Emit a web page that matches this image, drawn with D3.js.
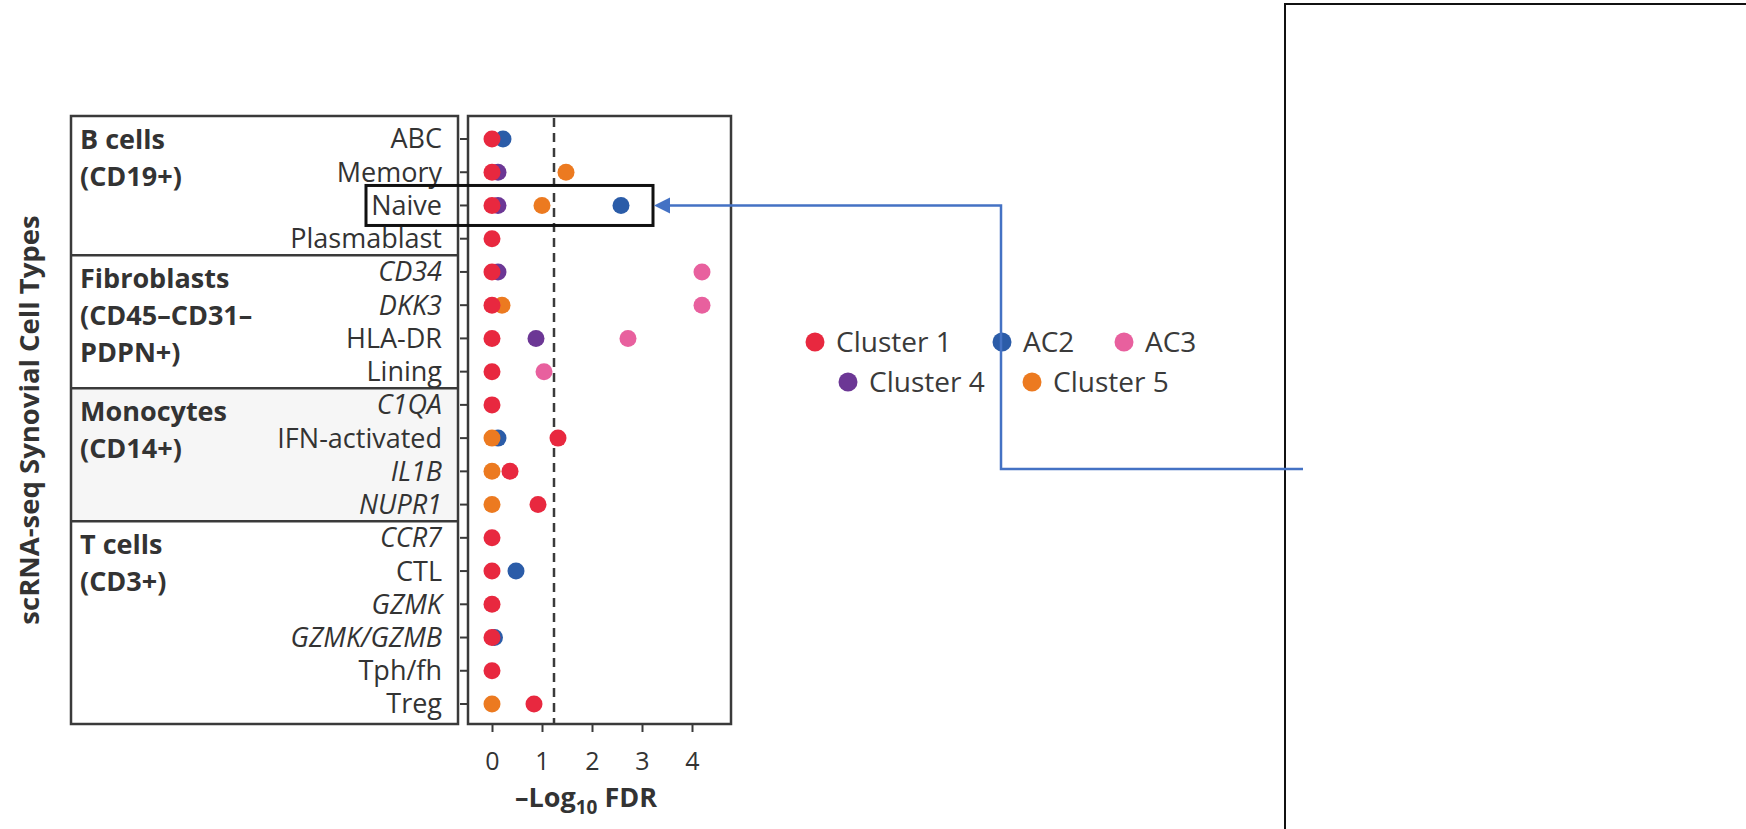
<!DOCTYPE html>
<html>
<head>
<meta charset="utf-8">
<script src="https://cdn.jsdelivr.net/npm/d3@7"></script>
<style>
  body { margin: 0; background: #fff; }
  svg { display: block; font-family: 'Open Sans', sans-serif; }
</style>
</head>
<body>
<div id="chart"></div>
<script>
// rows of the dot plot, top to bottom
const rows = ['ABC', 'Memory', 'Naive', 'Plasmablast',
  'CD34', 'DKK3', 'HLA-DR', 'Lining',
  'C1QA', 'IFN-activated', 'IL1B', 'NUPR1',
  'CCR7', 'CTL', 'GZMK', 'GZMK/GZMB', 'Tph/fh', 'Treg'];
const italicRows = ['CD34', 'DKK3', 'C1QA', 'IL1B', 'NUPR1', 'CCR7', 'GZMK', 'GZMK/GZMB'];
const groupNames = [['B cells', '(CD19+)'], ['Fibroblasts', '(CD45–CD31–', 'PDPN+)'], ['Monocytes', '(CD14+)'], ['T cells', '(CD3+)']];
const groupSizes = [4, 4, 4, 6];

// -log10 FDR per row (null = no dot shown)
const cluster1 = [0, 0, 0, 0, 0, 0, 0, 0, 0, 1.32, 0.36, 0.92, 0, 0, 0, 0, 0, 0.84];
const ac2 = [0.22, null, 2.58, null, null, null, null, null, null, 0.12, null, null, null, 0.48, null, 0.05, null, null];
const ac3 = [null, null, null, null, 4.2, 4.2, 2.72, 1.04, null, null, null, null, null, null, null, null, null, null];
const cluster4 = [null, 0.12, 0.12, null, 0.12, null, 0.88, null, null, null, null, null, null, null, null, null, null, null];
const cluster5 = [null, 1.48, 1.0, null, null, 0.2, null, null, null, 0, 0, 0, null, null, null, null, null, 0];

const seriesNames = ['Cluster 1', 'AC2', 'AC3', 'Cluster 4', 'Cluster 5'];
const seriesColors = ['#e8283f', '#2b5ca8', '#e8609e', '#6c3795', '#ec7a20'];
const xTicks = [0, 1, 2, 3, 4];
const fdrCut = 1.24;

const width = 1746, height = 829;
const svg = d3.select('#chart').append('svg')
  .attr('width', width).attr('height', height);

const box = { left: 468, right: 731, top: 116, bottom: 724 };
const panel = { left: 71, right: 458 };

const x = d3.scaleLinear().domain([0, 4]).range([492, 692]);
const y = d3.scalePoint().domain(rows).range([139, 704]);

const ink = '#3a3a3a';

// group separators sit halfway between rows
let idx = 0;
const groupBounds = groupSizes.map((n, i) => {
  const first = rows[idx], last = rows[idx + n - 1];
  const prev = idx > 0 ? rows[idx - 1] : null;
  const next = idx + n < rows.length ? rows[idx + n] : null;
  const top = prev ? (y(prev) + y(first)) / 2 : box.top;
  const bottom = next ? (y(last) + y(next)) / 2 : box.bottom;
  idx += n;
  return { top, bottom, names: groupNames[i] };
});

// monocyte band is shaded
svg.append('rect')
  .attr('x', panel.left).attr('width', panel.right - panel.left)
  .attr('y', groupBounds[2].top).attr('height', groupBounds[2].bottom - groupBounds[2].top)
  .attr('fill', '#f6f6f6');

svg.append('rect')
  .attr('x', panel.left).attr('y', box.top)
  .attr('width', panel.right - panel.left).attr('height', box.bottom - box.top)
  .attr('fill', 'none').attr('stroke', ink).attr('stroke-width', 2.5);

svg.selectAll('line.sep')
  .data(groupBounds.slice(1))
  .join('line')
  .attr('class', 'sep')
  .attr('x1', panel.left).attr('x2', panel.right)
  .attr('y1', d => d.top).attr('y2', d => d.top)
  .attr('stroke', ink).attr('stroke-width', 2.5);

// group titles
groupBounds.forEach(g => {
  svg.append('text')
    .attr('x', 80).attr('y', g.top + 33)
    .attr('font-size', 27).attr('font-weight', 700).attr('fill', '#333')
    .selectAll('tspan')
    .data(g.names)
    .join('tspan')
    .attr('x', 80)
    .attr('dy', (d, i) => i === 0 ? 0 : 37)
    .text(d => d);
});

// row labels
svg.append('g')
  .selectAll('text')
  .data(rows)
  .join('text')
  .attr('x', 442).attr('y', d => y(d)).attr('dy', '0.35em')
  .attr('text-anchor', 'end')
  .attr('font-size', 27).attr('fill', '#333')
  .attr('font-style', d => italicRows.includes(d) ? 'italic' : 'normal')
  .text(d => d);

// plot frame
svg.append('rect')
  .attr('x', box.left).attr('y', box.top)
  .attr('width', box.right - box.left).attr('height', box.bottom - box.top)
  .attr('fill', 'none').attr('stroke', ink).attr('stroke-width', 2.5);

// y ticks
svg.append('g')
  .selectAll('line')
  .data(rows)
  .join('line')
  .attr('x1', box.left - 8).attr('x2', box.left)
  .attr('y1', d => y(d)).attr('y2', d => y(d))
  .attr('stroke', ink).attr('stroke-width', 2);

// x axis
const xAxis = svg.append('g')
  .attr('transform', `translate(0,${box.bottom})`)
  .call(d3.axisBottom(x).tickValues(xTicks).tickSize(8).tickPadding(20).tickFormat(d3.format('d')));
xAxis.select('.domain').remove();
xAxis.selectAll('line').attr('stroke', ink).attr('stroke-width', 2);
xAxis.selectAll('text').attr('font-size', 25).attr('fill', '#333')
  .attr('font-family', "'Open Sans', sans-serif");

const xt = svg.append('text')
  .attr('x', 586).attr('y', 807)
  .attr('text-anchor', 'middle')
  .attr('font-size', 27).attr('font-weight', 700).attr('fill', '#333');
xt.append('tspan').text('–Log');
xt.append('tspan').attr('font-size', 19).attr('dy', 7).text('10');
xt.append('tspan').attr('dy', -7).text(' FDR');

svg.append('text')
  .attr('transform', `translate(39,${(box.top + box.bottom) / 2}) rotate(-90)`)
  .attr('text-anchor', 'middle')
  .attr('font-size', 27.5).attr('font-weight', 700).attr('fill', '#333')
  .text('scRNA-seq Synovial Cell Types');

// significance threshold
svg.append('line')
  .attr('x1', x(fdrCut)).attr('x2', x(fdrCut))
  .attr('y1', box.top + 2).attr('y2', box.bottom)
  .attr('stroke', ink).attr('stroke-width', 2.5)
  .attr('stroke-dasharray', '9,6');

// dots, drawn so Cluster 1 ends on top
const seriesValues = [cluster1, ac2, ac3, cluster4, cluster5];
const drawOrder = [1, 3, 2, 4, 0];
drawOrder.forEach(s => {
  const pts = rows.map((r, i) => ({ row: r, v: seriesValues[s][i] })).filter(d => d.v !== null);
  svg.append('g')
    .selectAll('circle')
    .data(pts)
    .join('circle')
    .attr('cx', d => x(d.v))
    .attr('cy', d => y(d.row))
    .attr('r', 8.5)
    .attr('fill', seriesColors[s]);
});

// legend
const legendPos = [[815, 342], [1002, 342], [1124, 342], [848, 382], [1032, 382]];
const legend = svg.append('g');
seriesNames.forEach((name, i) => {
  const [lx, ly] = legendPos[i];
  legend.append('circle').attr('cx', lx).attr('cy', ly).attr('r', 9.5).attr('fill', seriesColors[i]);
  legend.append('text').attr('x', lx + 21).attr('y', ly).attr('dy', '0.35em')
    .attr('font-size', 28).attr('fill', '#3a3a3a').text(name);
});

// highlight box around the Naive row
svg.append('rect')
  .attr('x', 366).attr('y', y('Naive') - 20)
  .attr('width', 287).attr('height', 40)
  .attr('fill', 'none').attr('stroke', '#111').attr('stroke-width', 3);

// empty panel on the right
svg.append('rect')
  .attr('x', 1285).attr('y', 4)
  .attr('width', 500).attr('height', 900)
  .attr('fill', 'none').attr('stroke', '#111').attr('stroke-width', 2);

// connector arrow
const blue = '#4472c4';
svg.append('path')
  .attr('d', `M1303,469 H1001 V${y('Naive')} H668`)
  .attr('fill', 'none').attr('stroke', blue).attr('stroke-width', 2.5);
svg.append('path')
  .attr('d', `M654,${y('Naive')} L670,${y('Naive') - 8} L670,${y('Naive') + 8} Z`)
  .attr('fill', blue);
</script>
</body>
</html>
